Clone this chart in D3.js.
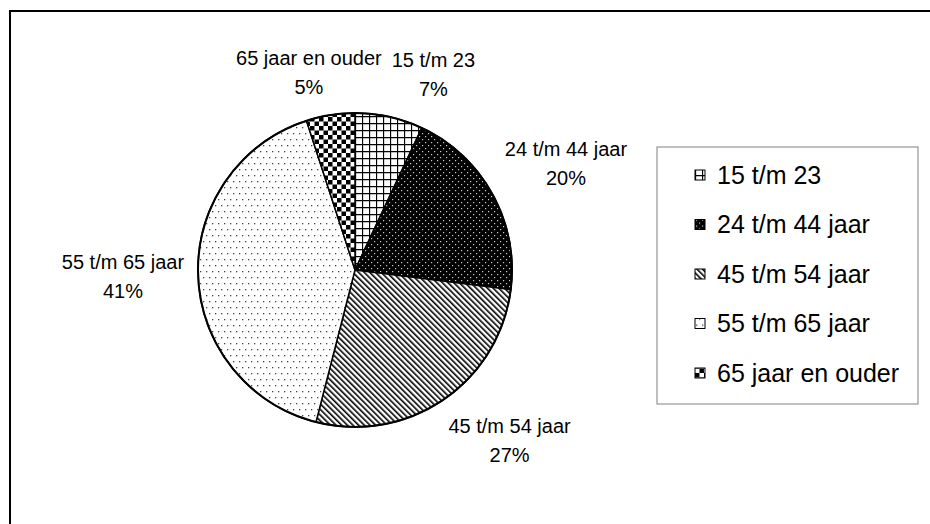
<!DOCTYPE html>
<html>
<head>
<meta charset="utf-8">
<script src="https://cdn.jsdelivr.net/npm/d3@7"></script>
<style>
    body { margin: 0; background: #fff; }
    svg { display: block; }
    text { font-family: "Liberation Sans", Arial, sans-serif; fill: #000; }
</style>
</head>
<body>
<svg id="chart" width="930" height="524"></svg>
<script>
const categories = ['15 t/m 23', '24 t/m 44 jaar', '45 t/m 54 jaar', '55 t/m 65 jaar', '65 jaar en ouder'];
const shares = [7, 20, 27, 41, 5];
const percentLabels = ['7%', '20%', '27%', '41%', '5%'];
const patternIds = ['pat-grid', 'pat-darkdots', 'pat-stripes', 'pat-lightdots', 'pat-checker'];

const svg = d3.select('#chart');
const width = 930, height = 524;
const cx = 355, cy = 270, radius = 157;
const labelGap = 14, lineHeight = 29, labelFont = 20;

// hatch patterns, like the old Excel fill patterns
const defs = svg.append('defs');

const grid = defs.append('pattern').attr('id', 'pat-grid')
    .attr('patternUnits', 'userSpaceOnUse').attr('width', 7).attr('height', 7);
grid.append('rect').attr('width', 7).attr('height', 7).attr('fill', '#fff');
grid.append('path').attr('d', 'M0.5,0V7M0,0.5H7').attr('stroke', '#000').attr('stroke-width', 1.3);

const darkDots = defs.append('pattern').attr('id', 'pat-darkdots')
    .attr('patternUnits', 'userSpaceOnUse').attr('width', 6).attr('height', 6);
darkDots.append('rect').attr('width', 6).attr('height', 6).attr('fill', '#000');
darkDots.append('rect').attr('x', 1).attr('y', 1).attr('width', 1.2).attr('height', 1.2).attr('fill', '#ccc');
darkDots.append('rect').attr('x', 4).attr('y', 4).attr('width', 1.2).attr('height', 1.2).attr('fill', '#ccc');

const stripes = defs.append('pattern').attr('id', 'pat-stripes')
    .attr('patternUnits', 'userSpaceOnUse').attr('width', 4).attr('height', 4)
    .attr('patternTransform', 'rotate(-45)');
stripes.append('rect').attr('width', 4).attr('height', 4).attr('fill', '#fff');
stripes.append('rect').attr('width', 1.6).attr('height', 4).attr('fill', '#000');

const lightDots = defs.append('pattern').attr('id', 'pat-lightdots')
    .attr('patternUnits', 'userSpaceOnUse').attr('width', 6).attr('height', 12);
lightDots.append('rect').attr('width', 6).attr('height', 12).attr('fill', '#fff');
lightDots.append('rect').attr('x', 1).attr('y', 1).attr('width', 1.3).attr('height', 1.3).attr('fill', '#444');
lightDots.append('rect').attr('x', 4).attr('y', 7).attr('width', 1.3).attr('height', 1.3).attr('fill', '#444');

const checker = defs.append('pattern').attr('id', 'pat-checker')
    .attr('patternUnits', 'userSpaceOnUse').attr('width', 9).attr('height', 9);
checker.append('rect').attr('width', 9).attr('height', 9).attr('fill', '#fff');
checker.append('rect').attr('width', 4.5).attr('height', 4.5).attr('fill', '#000');
checker.append('rect').attr('x', 4.5).attr('y', 4.5).attr('width', 4.5).attr('height', 4.5).attr('fill', '#000');

// outer frame (runs off the right and bottom edge)
svg.append('rect')
    .attr('x', 10).attr('y', 11)
    .attr('width', width).attr('height', height)
    .attr('fill', 'none').attr('stroke', '#000').attr('stroke-width', 2);

const pie = d3.pie().sort(null).value((d) => d);
const arcs = pie(shares);
const arc = d3.arc().innerRadius(0).outerRadius(radius);

const pieG = svg.append('g').attr('transform', `translate(${cx},${cy})`);
pieG.selectAll('path.slice')
    .data(arcs)
    .join('path')
    .attr('class', 'slice')
    .attr('d', arc)
    .attr('fill', (d, i) => `url(#${patternIds[i]})`)
    .attr('stroke', '#000')
    .attr('stroke-width', 1.5)
    .attr('stroke-linejoin', 'round');
pieG.append('circle').attr('r', radius)
    .attr('fill', 'none').attr('stroke', '#000').attr('stroke-width', 2);

// data labels: box sits just outside the pie along the mid-angle ray,
// then labels that collide get pushed sideways
const clamp = (v) => Math.max(-1, Math.min(1, v));
const labelG = svg.append('g');
const labels = arcs.map((a, i) => {
    const g = labelG.append('g');
    const t1 = g.append('text').attr('text-anchor', 'middle').attr('font-size', labelFont)
        .attr('y', -lineHeight / 2).attr('dy', '0.35em').text(categories[i]);
    g.append('text').attr('text-anchor', 'middle').attr('font-size', labelFont)
        .attr('y', lineHeight / 2).attr('dy', '0.35em').text(percentLabels[i]);
    const w = t1.node().getComputedTextLength();
    const h = lineHeight * 2;
    const mid = (a.startAngle + a.endAngle) / 2;
    const ux = Math.sin(mid), uy = -Math.cos(mid);
    const px = cx + ux * (radius + labelGap);
    const py = cy + uy * (radius + labelGap);
    return {
        g: g, w: w, h: h,
        x: px + clamp(ux * 1.7) * w / 2,
        y: py + clamp(uy * 1.7) * h / 2
    };
});
for (let i = 0; i < labels.length; i++) {
    for (let j = 0; j < labels.length; j++) {
        if (i === j) continue;
        const a = labels[i], b = labels[j];
        if (a.x >= b.x) continue;
        const overlapX = (a.x + a.w / 2 + 10) - (b.x - b.w / 2);
        const overlapY = (a.h + b.h) / 2 - Math.abs(a.y - b.y);
        if (overlapX > 0 && overlapY > 0) b.x += overlapX;
    }
}
labels.forEach((l) => l.g.attr('transform', `translate(${l.x},${l.y})`));

// legend
const legendX = 657, legendY = 147, legendW = 261, legendH = 257;
const rowY = d3.scalePoint().domain(categories).range([legendY + 28, legendY + 226]);
svg.append('rect')
    .attr('x', legendX).attr('y', legendY)
    .attr('width', legendW).attr('height', legendH)
    .attr('fill', '#fff').attr('stroke', '#808080').attr('stroke-width', 1);

const rows = svg.append('g').selectAll('g')
    .data(categories)
    .join('g')
    .attr('transform', (d) => `translate(${legendX + 38},${rowY(d)})`);
rows.append('rect')
    .attr('x', 0).attr('y', -5)
    .attr('width', 10).attr('height', 10)
    .attr('fill', (d, i) => `url(#${patternIds[i]})`)
    .attr('stroke', '#000').attr('stroke-width', 1);
rows.append('text')
    .attr('x', 22).attr('dy', '0.35em')
    .attr('font-size', 25)
    .text((d) => d);
</script>
</body>
</html>
